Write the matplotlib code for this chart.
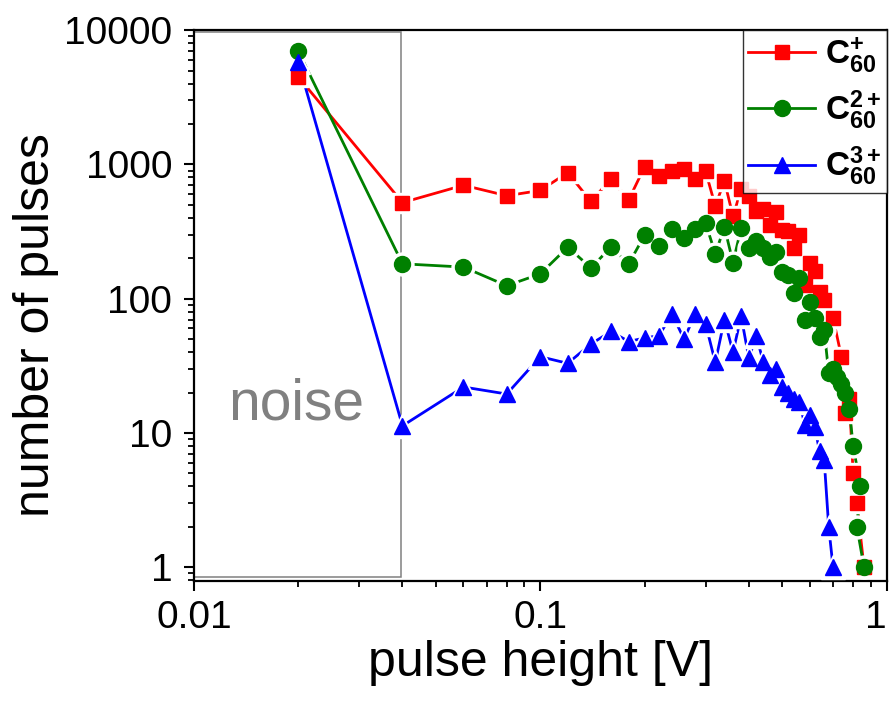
import matplotlib
matplotlib.use("Agg")
import matplotlib.pyplot as plt
from matplotlib.patches import Rectangle
from matplotlib.ticker import FixedLocator, LogLocator, NullFormatter, FixedFormatter

plt.rcParams['font.family'] = ['Liberation Sans', 'DejaVu Sans']
plt.rcParams['mathtext.fontset'] = 'custom'
plt.rcParams['mathtext.rm'] = 'Liberation Sans'
plt.rcParams['mathtext.bf'] = 'Liberation Sans:bold'

# pulse height histograms for the three charge states
x_c1 = [0.02, 0.04, 0.06, 0.08, 0.10, 0.12, 0.14, 0.16, 0.18, 0.20, 0.22, 0.24,
        0.26, 0.28, 0.30, 0.32, 0.34, 0.36, 0.38, 0.40, 0.42, 0.44, 0.46, 0.48,
        0.50, 0.52, 0.54, 0.56, 0.58, 0.60, 0.62, 0.64, 0.66, 0.70, 0.74, 0.76,
        0.78, 0.80, 0.82, 0.86]
n_c1 = [4500, 520, 700, 585, 640, 870, 530, 780, 545, 960, 820, 900,
        930, 780, 890, 490, 756, 410, 656, 585, 450, 465, 355, 445,
        326, 317, 238, 299, 126, 184, 160, 113, 98, 72, 37, 14,
        18, 5, 3, 1]

x_c2 = [0.02, 0.04, 0.06, 0.08, 0.10, 0.12, 0.14, 0.16, 0.18, 0.20, 0.22, 0.24,
        0.26, 0.28, 0.30, 0.32, 0.34, 0.36, 0.38, 0.40, 0.42, 0.44, 0.46, 0.48,
        0.50, 0.52, 0.54, 0.56, 0.58, 0.60, 0.62, 0.64, 0.66, 0.68, 0.70, 0.72,
        0.74, 0.76, 0.78, 0.80, 0.84, 0.82, 0.86]
n_c2 = [7000, 182, 172, 125, 153, 242, 170, 242, 182, 297, 246, 331,
        281, 328, 366, 216, 342, 186, 336, 240, 267, 240, 204, 221,
        158, 151, 110, 142, 70, 95, 72, 52, 58, 28, 30, 26,
        23, 20, 15, 8, 4, 2, 1]

x_c3 = [0.02, 0.04, 0.06, 0.08, 0.10, 0.12, 0.14, 0.16, 0.18, 0.20, 0.22, 0.24,
        0.26, 0.28, 0.30, 0.32, 0.34, 0.36, 0.38, 0.40, 0.42, 0.44, 0.46, 0.48,
        0.50, 0.52, 0.54, 0.56, 0.58, 0.60, 0.62, 0.64, 0.66, 0.68, 0.70]
n_c3 = [5800, 11.3, 22, 19.5, 37, 33, 46, 57, 48, 51, 53, 77,
        50, 77, 65, 33.5, 70, 40, 74, 36, 53, 34, 27, 30,
        22, 20, 18, 17, 11.5, 13.6, 11, 7.3, 6.3, 2, 1]

labels = [r'$\mathbf{C^{+}_{60}}$', r'$\mathbf{C^{2+}_{60}}$', r'$\mathbf{C^{3+}_{60}}$']
colors = ['#ff0000', '#008000', '#0000ff']
markers = ['s', 'o', '^']
msizes = [9.5, 11.5, 12]

fig = plt.figure(figsize=(8.91, 7.02), dpi=100)
ax = fig.add_axes([0.2176, 0.1724, 0.7776, 0.7846])

series = [(x_c1, n_c1), (x_c2, n_c2), (x_c3, n_c3)]
for (xs, ys), lab, c, m, ms in zip(series, labels, colors, markers, msizes):
    ax.plot(xs, ys, color=c, lw=2, marker=m, ms=ms, mec=c, label=lab, zorder=2)
    # white halo leaves a small gap between line and symbol
    ax.plot(xs, ys, ls='none', marker=m, ms=ms + 5, color='white', mec='white', zorder=3)
    ax.plot(xs, ys, ls='none', marker=m, ms=ms, color=c, mec=c, zorder=4)

ax.add_patch(Rectangle((0.01, 0.84), 0.0395 - 0.01, 9630 - 0.84, fill=False,
                       ec='#808080', lw=1.1, zorder=1))
ax.text(0.0197, 12.5, 'noise', color='#808080', fontsize=41, ha='center',
        va='baseline')

ax.set_xscale('log')
ax.set_yscale('log')
ax.set_xlim(0.01, 1)
ax.set_ylim(0.79, 10000)

ax.xaxis.set_major_locator(FixedLocator([0.01, 0.1, 1]))
ax.xaxis.set_major_formatter(FixedFormatter(['0.01', '0.1', '1']))
ax.xaxis.set_minor_locator(LogLocator(base=10, subs=range(2, 10)))
ax.xaxis.set_minor_formatter(NullFormatter())
ax.yaxis.set_major_locator(FixedLocator([1, 10, 100, 1000, 10000]))
ax.yaxis.set_major_formatter(FixedFormatter(['1', '10', '100', '1000', '10000']))
ax.yaxis.set_minor_locator(LogLocator(base=10, subs=range(2, 10)))
ax.yaxis.set_minor_formatter(NullFormatter())

ax.tick_params(which='major', direction='out', length=7.5, width=1.5,
               labelsize=28, pad=8)
ax.tick_params(which='minor', direction='out', length=4.5, width=1.3)
ax.tick_params(axis='x', which='major', pad=6)
for sp in ax.spines.values():
    sp.set_linewidth(1.6)

# keep the last x label inside the figure edge
ax.get_xticklabels()[-1].set_horizontalalignment('right')

ax.set_xlabel('pulse height [V]', fontsize=36, labelpad=3)
ax.set_ylabel('number of pulses', fontsize=36, labelpad=4)
ax.yaxis.label.set_y(0.465)

leg = ax.legend(loc='upper right', fontsize=24, frameon=True, fancybox=False,
                edgecolor='black', borderaxespad=0, handlelength=2.0,
                handletextpad=0.3, labelspacing=0.4, borderpad=0.15)
leg.get_frame().set_linewidth(1.0)
leg.set_zorder(6)

fig.savefig('out.png', dpi=100)
